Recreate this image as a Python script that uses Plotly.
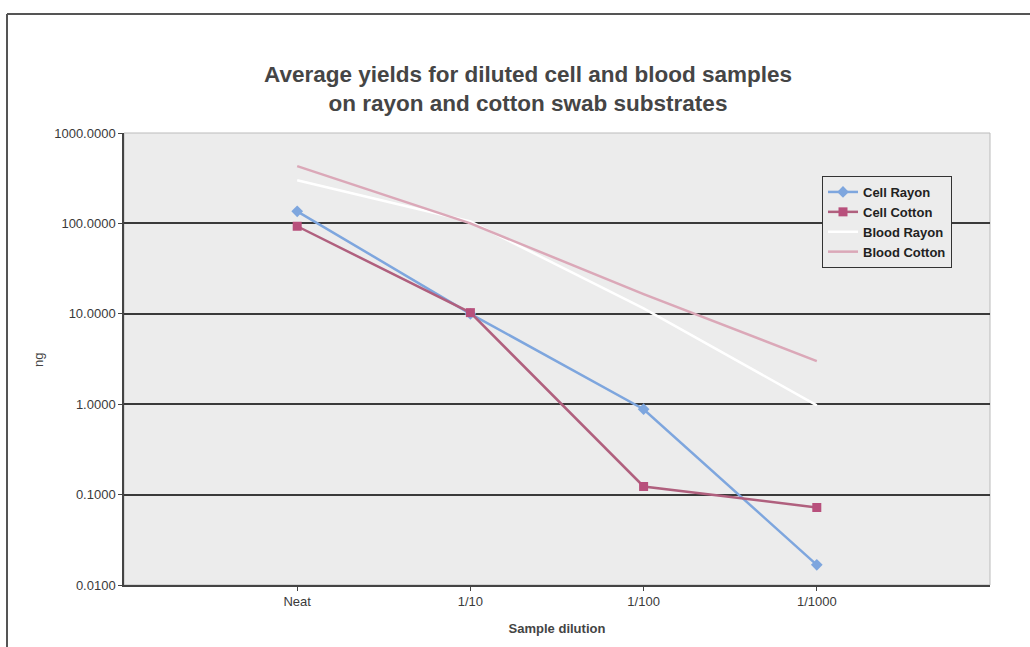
import plotly.graph_objects as go

categories = ["Neat", "1/10", "1/100", "1/1000"]
cell_rayon = [136, 10.0, 0.88, 0.0167]
cell_cotton = [93, 10.3, 0.123, 0.072]
blood_rayon = [300, 105, 11.5, 0.97]
blood_cotton = [430, 100, 16.5, 3.0]
y_ticks = [0.01, 0.1, 1, 10, 100, 1000]
y_tick_labels = ["0.0100", "0.1000", "1.0000", "10.0000", "100.0000", "1000.0000"]

W, H = 1030, 647
L, R, T, B = 124, 990, 133, 585

fig = go.Figure()
fig.add_trace(go.Scatter(x=categories, y=cell_rayon, name="Cell Rayon", mode="lines+markers",
                         line=dict(color="#7ea6de", width=2.5),
                         marker=dict(symbol="diamond", size=9, color="#7ea6de")))
fig.add_trace(go.Scatter(x=categories, y=cell_cotton, name="Cell Cotton", mode="lines+markers",
                         line=dict(color="#b0607e", width=2.5),
                         marker=dict(symbol="square", size=9, color="#b8507c")))
fig.add_trace(go.Scatter(x=categories, y=blood_rayon, name="Blood Rayon", mode="lines",
                         line=dict(color="#ffffff", width=2.5)))
fig.add_trace(go.Scatter(x=categories, y=blood_cotton, name="Blood Cotton", mode="lines",
                         line=dict(color="#dba8b8", width=2.5)))

def px_x(p):
    return (p - L) / (R - L)

def px_y(p):
    return (B - p) / (B - T)

FONT = "Liberation Sans, Arial"
axis_font = dict(family=FONT, size=13, color="#3a3a3a")

fig.update_layout(
    width=W, height=H, autosize=False,
    margin=dict(l=L, r=W - R, t=T, b=H - B),
    paper_bgcolor="white",
    plot_bgcolor="#ececec",
    title=dict(
        text="<b>Average yields for diluted cell and blood samples<br>on rayon and cotton swab substrates</b>",
        x=528 / W, xanchor="center", y=1 - 82 / H, yanchor="top",
        font=dict(family=FONT, size=22.5, color="#454545"),
    ),
    xaxis=dict(
        type="category", range=[-1, 4],
        showgrid=False, zeroline=False,
        showline=True, linecolor="#444444", linewidth=1.5,
        ticks="outside", ticklen=4, tickcolor="#444444",
        tickfont=axis_font,
        title=dict(text="<b>Sample dilution</b>", font=dict(family=FONT, size=13, color="#444444"), standoff=16),
    ),
    yaxis=dict(
        type="log", range=[-2, 3],
        tickvals=y_ticks, ticktext=y_tick_labels,
        showgrid=True, gridcolor="#3a3a3a", gridwidth=1.5,
        zeroline=False,
        showline=True, linecolor="#444444", linewidth=1.5,
        ticks="outside", ticklen=4, tickcolor="#444444",
        tickfont=axis_font,
    ),
    legend=dict(
        x=px_x(822), y=px_y(176), xanchor="left", yanchor="top",
        bgcolor="#ececec", bordercolor="#333333", borderwidth=1,
        font=dict(family=FONT, size=13, color="#222222", weight="bold"),
        tracegroupgap=0, itemwidth=30,
    ),
    showlegend=True,
    annotations=[
        dict(text="ng", xref="paper", yref="paper", x=px_x(38), y=px_y(360),
             xanchor="center", yanchor="middle", textangle=-90, showarrow=False,
             font=dict(family=FONT, size=13, color="#444444")),
    ],
    shapes=[
        dict(type="rect", xref="paper", yref="paper", x0=0, x1=1, y0=0, y1=1,
             line=dict(color="#bbbbbb", width=1), layer="below"),
        dict(type="line", xref="paper", yref="paper",
             x0=px_x(7), x1=px_x(7), y0=px_y(14), y1=px_y(H + 5),
             line=dict(color="#555555", width=2)),
        dict(type="line", xref="paper", yref="paper",
             x0=px_x(7), x1=px_x(W + 5), y0=px_y(14), y1=px_y(14),
             line=dict(color="#555555", width=2)),
    ],
)

fig.write_html("out.html")
